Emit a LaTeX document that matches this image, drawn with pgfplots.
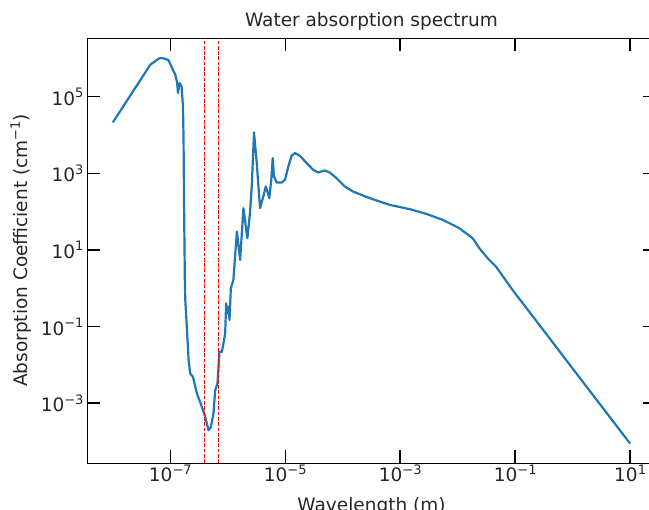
\documentclass[border=0pt]{standalone}
\usepackage{fontspec}
\setmainfont{DejaVu Sans}
\usepackage{pgfplots}
\pgfplotsset{compat=1.18}
\definecolor{mplblue}{HTML}{1F77B4}
\newcommand\sups[1]{\raisebox{0.42em}{\fontsize{13}{13}\selectfont #1}}
\begin{document}
\begin{tikzpicture}
\begin{axis}[
  scale only axis, width=569pt, height=425pt,
  xmode=log, ymode=log,
  xmin=3.55e-9, xmax=28.2, ymin=2.75e-5, ymax=3.4e6,
  xminorticks=false, yminorticks=false,
  xtick={1e-7,1e-5,1e-3,1e-1,1e1},
  xticklabels={10\sups{−7},10\sups{−5},10\sups{−3},10\sups{−1},10\sups{1}},
  ytick={1e-3,1e-1,1e1,1e3,1e5},
  yticklabels={10\sups{−3},10\sups{−1},10\sups{1},10\sups{3},10\sups{5}},
  tick align=inside,
  major tick length=13pt,
  major tick style={black, line width=1.5pt},
  axis line style={black, line width=0.9pt},
  ticklabel style={font=\fontsize{18.5}{22}\selectfont, text=black!85},
  xticklabel shift=-2pt,
  label style={font=\fontsize{18.5}{22}\selectfont, text=black!85},
  title={Water absorption spectrum},
  title style={font=\fontsize{18.5}{22}\selectfont, text=black!85, at={(axis description cs:0.5,1)}, anchor=base, yshift=5pt},
  xlabel={Wavelength (m)},
  xlabel style={at={(axis description cs:0.5,0)}, anchor=base, yshift=-48pt},
  ylabel={Absorption Coefficient (cm\sups{−1})},
  ylabel style={at={(axis description cs:-0.116,0.5)}, anchor=center},
]
\addplot[mplblue, line width=2.2pt, line join=round] coordinates {
(1.0e-8,2.13e4) (4.50e-8,6.87e5) (5.13e-8,7.89e5) (6.27e-8,9.84e5) (6.98e-8,1.03e6)
(8.19e-8,9.68e5) (9.35e-8,8.89e5) (1.07e-7,5.62e5) (1.22e-7,3.76e5) (1.31e-7,2.37e5)
(1.36e-7,1.25e5) (1.45e-7,2.28e5) (1.57e-7,1.86e5) (1.66e-7,5.57e4) (1.70e-7,7.51e3)
(1.73e-7,203) (1.79e-7,1.64) (1.82e-7,0.493) (1.95e-7,0.0809) (2.08e-7,0.0133)
(2.22e-7,5.97e-3) (2.48e-7,4.87e-3) (2.90e-7,1.79e-3) (3.55e-7,8.00e-4) (4.05e-7,4.38e-4)
(4.62e-7,1.97e-4) (5.08e-7,2.40e-4) (5.64e-7,5.38e-4) (6.04e-7,2.19e-3) (6.61e-7,3.27e-3)
(7.16e-7,0.0219) (7.88e-7,0.0219) (8.41e-7,0.0364) (9.00e-7,0.0664) (9.36e-7,0.404)
(9.86e-7,0.221) (1.03e-6,0.330) (1.07e-6,0.148) (1.13e-6,1.0) (1.25e-6,1.64)
(1.44e-6,30.1) (1.64e-6,5.48) (1.87e-6,123) (2.19e-6,20.2) (2.44e-6,98)
(2.61e-6,452) (2.86e-6,1.17e4) (3.19e-6,1850) (3.64e-6,123) (4.15e-6,248)
(4.57e-6,452) (4.88e-6,334) (5.27e-6,225) (5.71e-6,676) (6.04e-6,2490)
(6.37e-6,824) (7.10e-6,574) (8.67e-6,574) (9.89e-6,676) (1.13e-5,1510)
(1.29e-5,2870) (1.47e-5,3370) (1.80e-5,2870) (2.35e-5,1850) (3.06e-5,1236)
(3.73e-5,1050) (4.88e-5,1184) (5.96e-5,1050) (7.79e-5,748) (1.09e-4,452)
(1.51e-4,334) (2.94e-4,225) (6.55e-4,150) (1.46e-3,116) (2.84e-3,87.3)
(5.51e-3,60.8) (0.0107,36.9) (0.0182,20.2) (0.0238,11.1) (0.0332,6.07)
(0.0465,3.66) (0.0902,0.899) (0.342,0.0664) (1.29,4.87e-3) (10,8.83e-5)
};
\addplot[red, line width=0.9pt, dash pattern=on 3.7pt off 1.6pt] coordinates {(4e-7,2.75e-5) (4e-7,3.4e6)};
\addplot[red, line width=0.9pt, dash pattern=on 3.7pt off 1.6pt] coordinates {(7e-7,2.75e-5) (7e-7,3.4e6)};
\coordinate (SW) at (rel axis cs:0,0);
\coordinate (NE) at (rel axis cs:1,1);
\end{axis}
\pgfresetboundingbox
\path[use as bounding box] ([xshift=-87pt,yshift=-47pt]SW) rectangle ([xshift=-7pt,yshift=38pt]NE);
\end{tikzpicture}
\end{document}
